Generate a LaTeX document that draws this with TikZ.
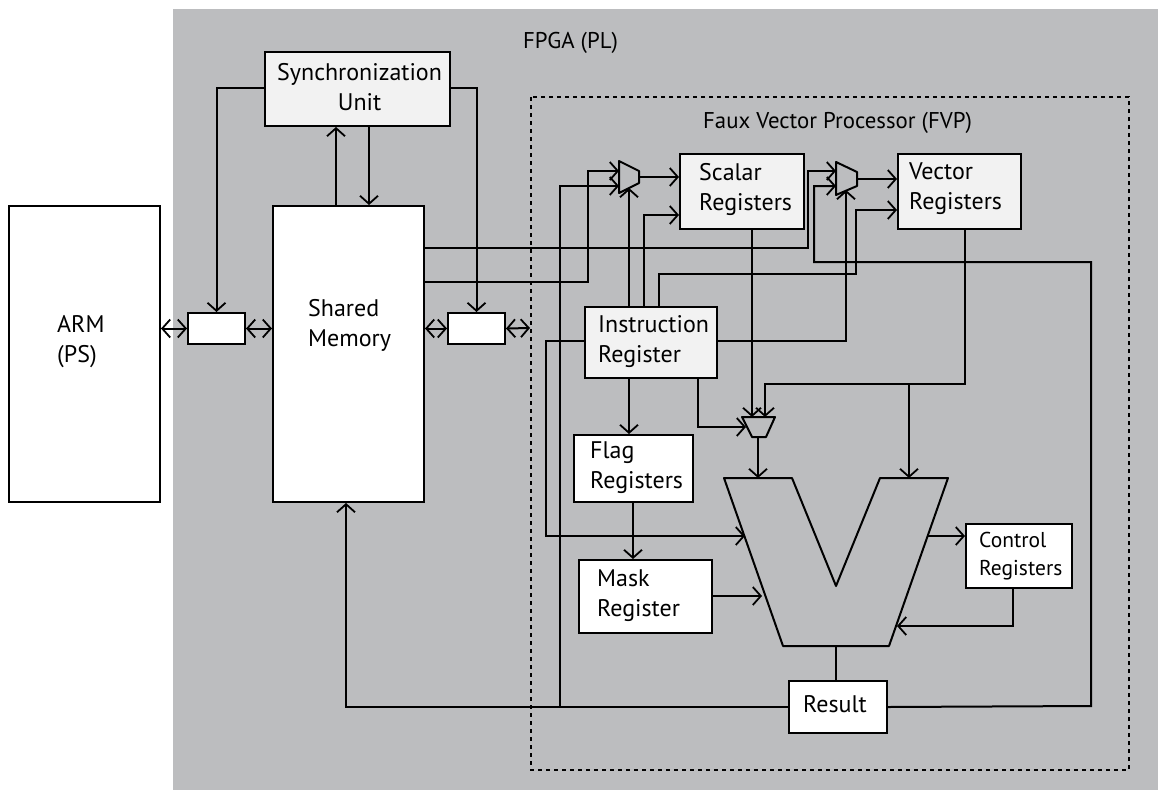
\documentclass[tikz,border=0pt]{standalone}
\usepackage{fontspec}
\setmainfont{PT Sans}
\usetikzlibrary{arrows.meta}
\definecolor{plgray}{HTML}{BCBDBF}
\definecolor{reglight}{HTML}{F2F2F2}
\tikzset{
	x=1pt, y=-1pt,
	wire/.style={line width=2pt, >={Straight Barb[length=8pt, width=18pt, line width=1.8pt]}},
	box/.style={draw, line width=2pt, inner sep=0pt, anchor=north west},
	whitebox/.style={box, fill=white},
	lightbox/.style={box, fill=reglight},
	blocktext/.style={anchor=west, align=left, inner sep=0pt, font=\fontsize{24}{30}\selectfont},
	titletext/.style={blocktext, font=\fontsize{22.8}{28}\selectfont},
	smalltext/.style={blocktext, font=\fontsize{21.5}{28}\selectfont}
}

\begin{document}
\begin{tikzpicture}
				\useasboundingbox (0,0) rectangle (1158,790);
				\fill[plgray] (173,9) rectangle (1158,790);
				\draw[line width=2pt, dash pattern=on 4pt off 4pt] (531,97) rectangle (1129,770);

				\draw
					(8,205) node[whitebox, minimum width=151pt, minimum height=296pt] (arm) {}
					(272,205) node[whitebox, minimum width=151pt, minimum height=296pt] (mem) {}
					(264,51) node[lightbox, minimum width=185pt, minimum height=74pt] (sync) {}
					(187,312) node[whitebox, minimum width=57pt, minimum height=31pt] (bridge1) {}
					(447,312) node[whitebox, minimum width=57pt, minimum height=31pt] (bridge2) {}

					(679,153) node[lightbox, minimum width=124pt, minimum height=75pt] (scalar) {}
					(897,153) node[lightbox, minimum width=123pt, minimum height=75pt] (vector) {}
					(584,306) node[lightbox, minimum width=132pt, minimum height=71pt] (instr) {}
					(573,434) node[whitebox, minimum width=119pt, minimum height=67pt] (flag) {}
					(578,559) node[whitebox, minimum width=133pt, minimum height=73pt] (mask) {}
					(965,523) node[whitebox, minimum width=106pt, minimum height=64pt] (control) {}
					(788,680) node[whitebox, minimum width=98pt, minimum height=52pt] (result) {};

				\coordinate (fvpedge) at (530,328);
				\coordinate (mux1a) at (619,171);
				\coordinate (mux1b) at (619,186);
				\coordinate (mux1s) at (629,188);
				\coordinate (mux1o) at (639,177);
				\coordinate (mux2a) at (836,171);
				\coordinate (mux2b) at (836,186);
				\coordinate (mux2s) at (846,190);
				\coordinate (mux2o) at (857,179);
				\coordinate (mux3a) at (752,417);
				\coordinate (mux3b) at (765,417);
				\coordinate (mux3s) at (746,427);
				\coordinate (mux3o) at (758,437);
				\coordinate (alua) at (758,478);
				\coordinate (alub) at (909,478);
				\coordinate (aluc) at (745,536);
				\coordinate (alud) at (762,596);
				\coordinate (alue) at (928,536);
				\coordinate (aluf) at (897,626);
				\coordinate (alug) at (836,646);

				% muxes and the alu
				\draw[line width=2pt, line join=round] (619,161) -- (639,171) -- (639,183) -- (619,193) -- cycle;
				\draw[line width=2pt, line join=round] (836,162) -- (857,172) -- (857,186) -- (836,195) -- cycle;
				\draw[line width=2pt, line join=round] (742,417) -- (775,417) -- (766,437) -- (752,437) -- cycle;
				\draw[line width=2pt, line join=round] (724,478) -- (792,478) -- (836,586) -- (880,478) -- (948,478) -- (889,646) -- (783,646) -- cycle;

				\draw[wire, ->]
					(sync.west |- 0,88) -| (bridge1.north);
				\draw[wire, ->]
					(sync.east |- 0,88) -| (bridge2.north);
				\draw[wire, ->] (mem.north -| 336,0) -- (sync.south -| 336,0);
				\draw[wire, ->] (sync.south -| 369,0) -- (mem.north -| 369,0);

				\draw[wire, <->] (arm.east |- bridge1.west) -- (bridge1.west);
				\draw[wire, <->] (bridge1.east) -- (mem.west |- bridge1.east);
				\draw[wire, <->] (mem.east |- bridge2.west) -- (bridge2.west);
				\draw[wire, <->] (bridge2.east) -- (fvpedge);

				\draw[wire, ->]
					(mem.east |- 0,282) -- (588,282) |- (mux1a);
				\draw[wire, ->]
					(mem.east |- 0,248) -- (808,248) |- (mux2a);
				\draw[wire, ->]
					(result.west) -| (mem.south -| 346,0);
				\draw[wire, ->]
					(560,706) |- (mux1b);
				\draw[wire, ->]
					(result.east) -- (1091,706) -- (1091,262) -- (814,262) |- (mux2b);

				\draw[wire, ->] (mux1o) -- (scalar.west |- mux1o);
				\draw[wire, ->] (mux2o) -- (vector.west |- mux2o);

				\draw[wire, ->] (instr.north -| mux1s) -- (mux1s);
				\draw[wire, ->]
					(instr.north -| 644,0) |- (scalar.west |- 0,215);
				\draw[wire, ->]
					(instr.north -| 659,0) -- (659,274) -- (856,274) |- (vector.west |- 0,210);
				\draw[wire, ->]
					(instr.east |- 0,341) -| (mux2s);
				\draw[wire, ->]
					(instr.west |- 0,341) -- (546,341) |- (aluc);
				\draw[wire, ->] (instr.south -| 629,0) -- (flag.north -| 629,0);
				\draw[wire, ->]
					(instr.south -| 698,0) |- (mux3s);

				\draw[wire, ->] (scalar.south -| mux3a) -- (mux3a);
				\draw[wire, ->]
					(vector.south -| 965,0) -- (965,384) -- (765,384) -- (mux3b);
				\draw[wire, ->] (909,384) -- (alub);
				\draw[wire, ->] (mux3o) -- (alua);

				\draw[wire, ->] (flag.south -| 633,0) -- (mask.north -| 633,0);
				\draw[wire, ->] (mask.east |- alud) -- (alud);
				\draw[wire, ->] (alue) -- (control.west |- alue);
				\draw[wire, ->]
					(control.south -| 1013,0) |- (aluf);
				\draw[wire] (alug) -- (result.north -| alug);

				\node[titletext] (fpgalabel) at (523,43) {FPGA (PL)};
				\node[titletext] (fvplabel) at (703,123) {Faux Vector Processor (FVP)};
				\node[blocktext] (armlabel) at (57,342) {ARM\\(PS)};
				\node[blocktext] (memlabel) at (308,325) {Shared\\Memory};
				\node[blocktext, align=center] (synclabel) at (277,87) {Synchronization\\Unit};
				\node[blocktext] (scalarlabel) at (699,189) {Scalar\\Registers};
				\node[blocktext] (vectorlabel) at (909,189) {Vector\\Registers};
				\node[blocktext] (instrlabel) at (598,342) {Instruction\\Register};
				\node[blocktext] (flaglabel) at (590,468) {Flag\\Registers};
				\node[blocktext] (masklabel) at (597,596) {Mask\\Register};
				\node[smalltext] (controllabel) at (979,556) {Control\\Registers};
				\node[blocktext] (resultlabel) at (803,704) {Result};
\end{tikzpicture}
\end{document}
